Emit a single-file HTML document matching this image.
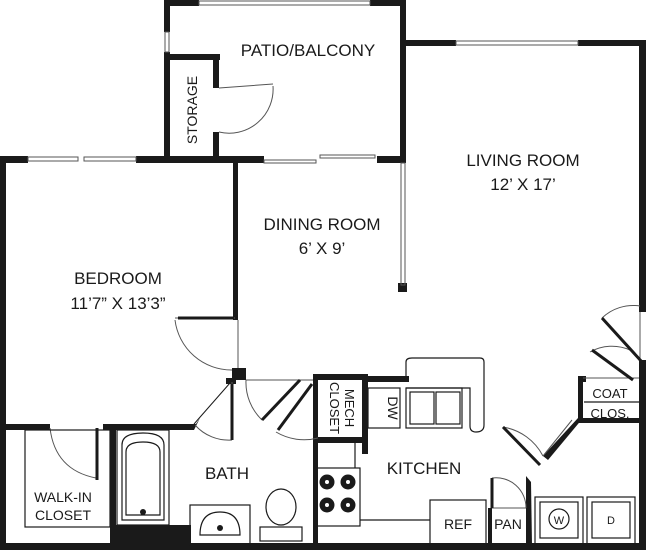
<!DOCTYPE html>
<html><head><meta charset="utf-8"><style>
body{margin:0;background:#fff}
svg{display:block}
text{font-family:"Liberation Sans",sans-serif;fill:#1a1a1a}
</style></head><body>
<svg width="646" height="550" viewBox="0 0 646 550" xmlns="http://www.w3.org/2000/svg">
<g fill="#1a1a1a">
<rect x="164" y="0" width="35" height="6"/>
<rect x="370" y="0" width="36" height="6"/>
<rect x="164" y="0" width="6" height="32"/>
<rect x="164" y="52" width="6" height="110"/>
<rect x="164" y="54" width="56" height="6"/>
<rect x="213" y="54" width="6" height="34"/>
<rect x="213" y="132" width="6" height="28"/>
<rect x="400" y="0" width="6" height="162"/>
<rect x="406" y="40" width="50" height="6"/>
<rect x="578" y="40" width="68" height="6"/>
<rect x="639" y="40" width="7" height="272"/>
<rect x="639" y="360" width="7" height="190"/>
<rect x="0" y="156" width="28" height="7"/>
<rect x="136" y="156" width="128" height="7"/>
<rect x="377" y="156" width="29" height="7"/>
<rect x="0" y="156" width="6" height="394"/>
<rect x="0" y="543" width="646" height="7"/>
<rect x="233" y="160" width="5" height="160"/>
<rect x="232" y="368" width="14" height="12"/>
<rect x="0" y="424" width="50" height="6"/>
<rect x="103" y="424" width="90" height="6"/>
<polygon points="188,424 196,424 200,418 194,430 188,430"/>
<rect x="226" y="378" width="10" height="6"/>
<rect x="110" y="424" width="6" height="126"/>
<rect x="116" y="525" width="75" height="20"/>
<rect x="313" y="374" width="54" height="6"/>
<rect x="313" y="374" width="5" height="70"/>
<rect x="362" y="374" width="6" height="80"/>
<rect x="313" y="437" width="55" height="6"/>
<rect x="313" y="440" width="5" height="105"/>
<rect x="367" y="376" width="42" height="6"/>
<rect x="578" y="376" width="5" height="45"/>
<rect x="578" y="376" width="8" height="6"/>
<rect x="578" y="418" width="68" height="5"/>
<polygon points="578,418 583,418 548,460 543,456"/>
<polygon points="526,476 531,482 532,545 526,545"/>
<rect x="488" y="508" width="4" height="37"/>
<rect x="398" y="283" width="9" height="9"/>
</g>
<g stroke="#555" stroke-width="1" fill="none">
<rect x="199" y="1" width="171" height="4"/>
<rect x="165" y="32" width="4" height="20"/>
<rect x="456" y="41" width="122" height="4"/>
<rect x="28" y="157" width="50" height="4"/><rect x="84" y="157" width="52" height="4"/>
<rect x="264" y="160" width="52" height="3"/><rect x="320" y="155" width="55" height="3"/>
<rect x="401" y="163" width="4" height="122"/>
<line x1="238" y1="320" x2="238" y2="368"/>
<line x1="246" y1="380" x2="313" y2="380"/>
<line x1="194" y1="424" x2="230" y2="383" stroke="#1a1a1a"/>
<path d="M219,88 L273,84 M219,132 A44,44 0 0 0 273,86"/>
<path d="M175,318 L235,318 M175,320 A57,57 0 0 0 232,370"/>
<path d="M195,425 A45,45 0 0 0 232,440 M232,382 L232,440"/>
<path d="M50,428 Q55,470 96,478"/>
<path d="M246,380 A52,52 0 0 0 262,420 M318,438 A55,55 0 0 1 276,432"/>
<path d="M640,306 A45,45 0 0 0 602,318 M640,312 L640,360 M630,350 A45,45 0 0 0 590,352 M583,378 L639,378"/>
<path d="M543,456 A55,55 0 0 0 503,427 M572,420 L543,456"/>
<path d="M492,478 A30,30 0 0 1 526,508 M492,508 L526,508"/>
</g>
<g stroke="#1a1a1a" stroke-width="3" fill="none">
<line x1="300" y1="380" x2="262" y2="420"/>
<line x1="312" y1="384" x2="278" y2="430"/>
<line x1="642" y1="362" x2="602" y2="318"/>
<line x1="633" y1="380" x2="592" y2="350"/>
<line x1="540" y1="465" x2="503" y2="427"/>
<line x1="492" y1="508" x2="492" y2="478"/>
<line x1="232" y1="384" x2="232" y2="440"/>
<line x1="97" y1="428" x2="97" y2="480"/>
<line x1="178" y1="318" x2="234" y2="318"/>
</g>
<g stroke="#1a1a1a" stroke-width="1.2" fill="none">
<rect x="117" y="430" width="52" height="95"/>
<path d="M122,520 V445 Q122,433 143,433 Q164,433 164,445 V520 Z"/>
<path d="M126,515 V452 Q126,442 143,442 Q160,442 160,452 V515 Z"/>
<rect x="190" y="505" width="60" height="40"/>
<path d="M200,535 Q200,512 220,512 Q240,512 240,535 Z"/>
<rect x="260" y="527" width="42" height="14"/>
<ellipse cx="281" cy="507" rx="15" ry="18"/>
<rect x="316" y="468" width="44" height="58"/>
<rect x="368" y="388" width="32" height="40"/>
<rect x="406" y="388" width="56" height="40"/>
<rect x="410" y="392" width="24" height="32"/><rect x="436" y="392" width="24" height="32"/>
<path d="M406,376 V362 Q406,358 412,358 H480 Q484,358 484,362 V425 Q484,432 476,432 Q470,432 470,426 V388 H406"/>
<rect x="430" y="500" width="56" height="45"/>
<rect x="535" y="497" width="48" height="48"/><rect x="540" y="502" width="38" height="36"/>
<rect x="587" y="497" width="48" height="48"/><rect x="592" y="502" width="38" height="36"/>
<circle cx="559" cy="519" r="10"/>
<line x1="360" y1="520" x2="430" y2="520"/>
<line x1="355" y1="443" x2="355" y2="468"/>
<line x1="584" y1="402" x2="639" y2="402"/>
<rect x="25" y="430" width="85" height="97"/>
</g>
<g fill="#1a1a1a">
<circle cx="327" cy="482" r="7.5"/><circle cx="348" cy="482" r="7.5"/>
<circle cx="327" cy="505" r="7.5"/><circle cx="348" cy="505" r="7.5"/>
<circle cx="143" cy="512" r="3"/><circle cx="220" cy="528" r="3"/>
</g>
<g fill="#fff"><circle cx="327" cy="482" r="2"/><circle cx="348" cy="482" r="2"/><circle cx="327" cy="505" r="2"/><circle cx="348" cy="505" r="2"/></g>
<g font-size="17" text-anchor="middle">
<text x="308" y="56">PATIO/BALCONY</text>
<text x="523" y="166">LIVING ROOM</text>
<text x="523" y="190">12’ X 17’</text>
<text x="322" y="230">DINING ROOM</text>
<text x="322" y="254">6’ X 9’</text>
<text x="118" y="284">BEDROOM</text>
<text x="118" y="309">11’7” X 13’3”</text>
<text x="227" y="479">BATH</text>
<text x="424" y="474">KITCHEN</text>
</g>
<g font-size="14" text-anchor="middle">
<text x="63" y="502">WALK-IN</text>
<text x="63" y="520">CLOSET</text>
<text x="610" y="398" font-size="13">COAT</text>
<text x="610" y="418" font-size="13">CLOS.</text>
<text x="458" y="529">REF</text>
<text x="508" y="529">PAN</text>
<text x="559" y="524" font-size="11">W</text>
<text x="611" y="524" font-size="11">D</text>
<text transform="translate(197,110) rotate(-90)">STORAGE</text>
<text transform="translate(388,408) rotate(90)">DW</text>
<text transform="translate(330,408) rotate(90)" font-size="13">CLOSET</text>
<text transform="translate(345,408) rotate(90)" font-size="13">MECH</text>
</g>
</svg>
</body></html>
